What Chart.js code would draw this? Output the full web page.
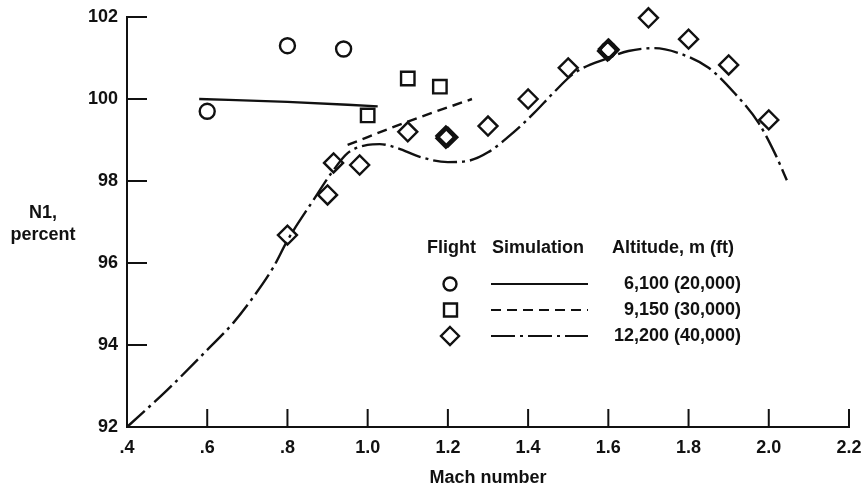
<!DOCTYPE html>
<html>
<head>
<meta charset="utf-8">
<script src="https://cdn.jsdelivr.net/npm/chart.js@4.4.1/dist/chart.umd.min.js"></script>
<style>
  html, body { margin: 0; padding: 0; background: #fff; }
  #wrap { width: 861px; height: 489px; position: relative; }
</style>
</head>
<body>
<div id="wrap"><canvas id="c" width="861" height="489"></canvas></div>
<script>
// Axis tick values
const machTicks = [0.4, 0.6, 0.8, 1.0, 1.2, 1.4, 1.6, 1.8, 2.0, 2.2];
const n1Ticks = [92, 94, 96, 98, 100, 102];

// Flight data, 6,100 m (20,000 ft)
const flight20kMach = [0.6, 0.8, 0.94, 1.6];
const flight20kN1   = [99.7, 101.3, 101.22, 101.2];

// Flight data, 9,150 m (30,000 ft)
const flight30kMach = [1.0, 1.1, 1.18];
const flight30kN1   = [99.6, 100.5, 100.3];

// Flight data, 12,200 m (40,000 ft); repeated runs near 1.2 and 1.6
const flight40kMach = [0.8, 0.9, 0.915, 0.98, 1.1, 1.195, 1.195, 1.2, 1.3, 1.4, 1.5, 1.598, 1.6, 1.602, 1.7, 1.8, 1.9, 2.0];
const flight40kN1   = [96.68, 97.66, 98.44, 98.39, 99.2, 99.04, 99.1, 99.07, 99.34, 100.0, 100.76, 101.17, 101.22, 101.2, 101.98, 101.46, 100.83, 99.49];

// Simulation, 6,100 m
const sim20kMach = [0.58, 0.8, 1.025];
const sim20kN1   = [100.0, 99.93, 99.82];

// Simulation, 9,150 m
const sim30kMach = [0.95, 1.1, 1.26];
const sim30kN1   = [98.88, 99.45, 100.0];

// Simulation, 12,200 m
const sim40kMach = [0.4, 0.5, 0.6, 0.665, 0.715, 0.765, 0.8, 0.865, 0.91, 0.95, 1.0, 1.03, 1.075, 1.13, 1.2, 1.25, 1.3, 1.365, 1.415, 1.465, 1.515, 1.6, 1.65, 1.715, 1.775, 1.85, 1.915, 1.975, 2.015, 2.045];
const sim40kN1   = [92.0, 92.9, 93.88, 94.54, 95.17, 95.9, 96.55, 97.54, 98.2, 98.68, 98.88, 98.9, 98.8, 98.59, 98.46, 98.49, 98.7, 99.2, 99.66, 100.17, 100.63, 101.0, 101.17, 101.24, 101.12, 100.76, 100.14, 99.41, 98.68, 98.02];

// Legend rows
const legendAltitudes = ['6,100 (20,000)', '9,150 (30,000)', '12,200 (40,000)'];
const legendHeader = ['Flight', 'Simulation', 'Altitude, m (ft)'];

const FONT = 'bold 18px "Liberation Sans", Arial, sans-serif';
const INK = '#111';

const pts = (xs, ys) => xs.map((x, i) => ({ x, y: ys[i] }));

const DASHED = [10, 6];
const DASHDOT = [24, 5, 3, 5];

function simLine(xs, ys, dash) {
  return {
    type: 'line', data: pts(xs, ys), borderColor: INK, borderWidth: 2.4,
    borderDash: dash, pointRadius: 0, cubicInterpolationMode: 'monotone',
    fill: false, clip: false
  };
}
function flightPts(xs, ys, style, r) {
  return {
    type: 'scatter', data: pts(xs, ys), pointStyle: style, pointRadius: r,
    pointBorderColor: INK, pointBackgroundColor: 'rgba(255,255,255,0)',
    pointBorderWidth: 2.4, clip: false
  };
}

// Inward tick marks, axis titles and the legend table
const decorations = {
  id: 'decorations',
  afterDraw(chart) {
    const ctx = chart.ctx;
    const xs = chart.scales.x, ys = chart.scales.y;
    const area = chart.chartArea;
    ctx.save();
    ctx.strokeStyle = INK;
    ctx.lineWidth = 2;
    ctx.setLineDash([]);
    n1Ticks.forEach(v => {
      const y = ys.getPixelForValue(v);
      ctx.beginPath(); ctx.moveTo(area.left, y); ctx.lineTo(area.left + 20, y); ctx.stroke();
    });
    machTicks.forEach(v => {
      const x = xs.getPixelForValue(v);
      ctx.beginPath(); ctx.moveTo(x, area.bottom); ctx.lineTo(x, area.bottom - 18); ctx.stroke();
    });

    ctx.fillStyle = INK;
    ctx.font = FONT;
    ctx.textAlign = 'center';
    ctx.textBaseline = 'middle';
    ctx.fillText('N1,', 43, 213);
    ctx.fillText('percent', 43, 235);

    // legend table
    ctx.textAlign = 'left';
    ctx.fillText(legendHeader[0], 427, 248);
    ctx.fillText(legendHeader[1], 492, 248);
    ctx.fillText(legendHeader[2], 612, 248);
    const rows = [284, 310, 336];
    const dashes = [[], DASHED, DASHDOT];
    rows.forEach((ry, i) => {
      ctx.setLineDash(dashes[i]);
      ctx.lineWidth = 2.2;
      ctx.beginPath(); ctx.moveTo(491, ry); ctx.lineTo(588, ry); ctx.stroke();
      ctx.setLineDash([]);
      ctx.lineWidth = 2.4;
      ctx.beginPath();
      if (i === 0) {
        ctx.arc(450, ry, 6.5, 0, Math.PI * 2);
      } else if (i === 1) {
        ctx.rect(444, ry - 6.5, 13, 13);
      } else {
        ctx.moveTo(450, ry - 9); ctx.lineTo(459, ry); ctx.lineTo(450, ry + 9); ctx.lineTo(441, ry); ctx.closePath();
      }
      ctx.stroke();
      ctx.textAlign = 'right';
      ctx.fillText(legendAltitudes[i], 741, ry);
    });
    ctx.restore();
  }
};

new Chart(document.getElementById('c'), {
  data: {
    datasets: [
      simLine(sim20kMach, sim20kN1, []),
      simLine(sim30kMach, sim30kN1, DASHED),
      simLine(sim40kMach, sim40kN1, DASHDOT),
      flightPts(flight20kMach, flight20kN1, 'circle', 7.5),
      flightPts(flight30kMach, flight30kN1, 'rect', 9.5),
      flightPts(flight40kMach, flight40kN1, 'rectRot', 9.5)
    ]
  },
  options: {
    responsive: false,
    animation: false,
    events: [],
    layout: { padding: { left: 0, right: 12, top: 17, bottom: 0 }, autoPadding: false },
    plugins: { legend: { display: false }, tooltip: { enabled: false } },
    scales: {
      x: {
        type: 'linear', min: 0.4, max: 2.2,
        afterBuildTicks: s => { s.ticks = machTicks.map(v => ({ value: v })); },
        afterFit: s => { s.height = 62; s.paddingLeft = 0; s.paddingRight = 0; },
        grid: { display: false, drawTicks: false },
        border: { display: true, color: INK, width: 2 },
        ticks: {
          color: INK, font: { family: '"Liberation Sans", Arial, sans-serif', size: 18, weight: 'bold' },
          padding: 10, maxRotation: 0,
          callback: v => v < 1 ? '.' + Math.round(v * 10) : (Math.round(v * 10) / 10).toFixed(1)
        },
        title: {
          display: true, text: 'Mach number', color: INK, padding: { top: 4, bottom: 0 },
          font: { family: '"Liberation Sans", Arial, sans-serif', size: 18, weight: 'bold' }
        }
      },
      y: {
        type: 'linear', min: 92, max: 102,
        afterBuildTicks: s => { s.ticks = n1Ticks.map(v => ({ value: v })); },
        afterFit: s => { s.width = 127; s.paddingTop = 0; s.paddingBottom = 0; },
        grid: { display: false, drawTicks: false },
        border: { display: true, color: INK, width: 2 },
        ticks: {
          color: INK, font: { family: '"Liberation Sans", Arial, sans-serif', size: 18, weight: 'bold' },
          padding: 9
        }
      }
    }
  },
  plugins: [decorations]
});
</script>
</body>
</html>
